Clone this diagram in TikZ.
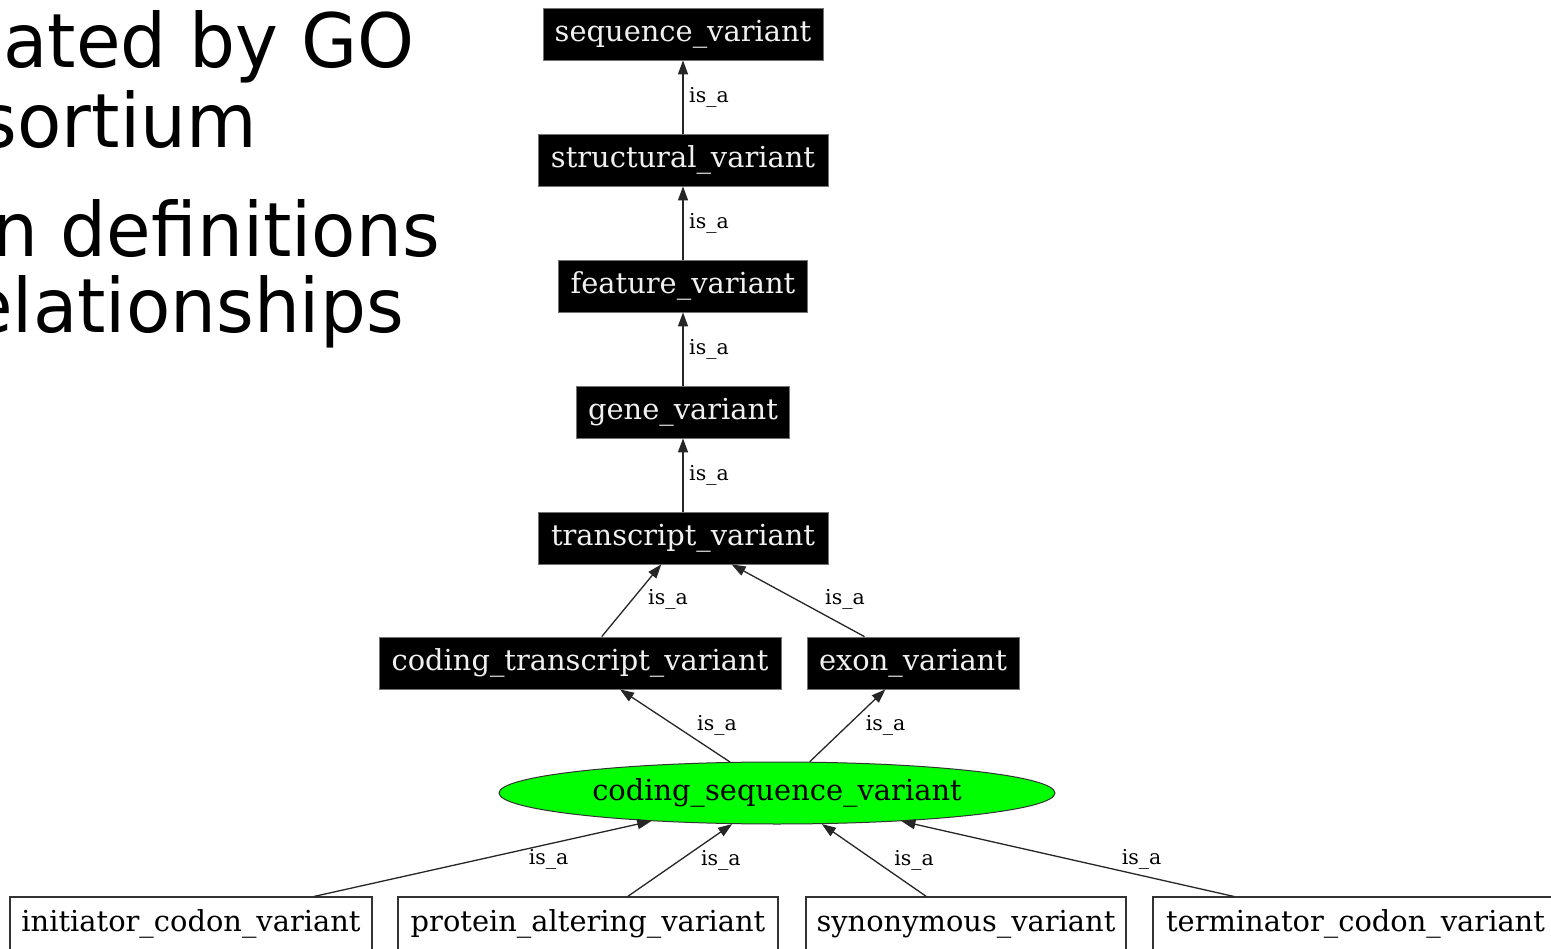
\documentclass[tikz,border=0pt]{standalone}
\usepackage{fontspec}
\setmainfont{DejaVu Serif}
\newfontfamily\slidefont[FakeStretch=0.966]{DejaVu Sans}
\usetikzlibrary{shapes.geometric,arrows.meta}
\begin{document}
\begin{tikzpicture}[x=1pt,y=-1pt,
  nfont/.style={font=\fontsize{28.9}{31}\selectfont},
  blk/.style={nfont,fill=black,draw=black!55,line width=0.8pt,text=white!94!black,inner sep=0pt,minimum height=52pt},
  wht/.style={nfont,fill=white,draw=black!80,line width=1.1pt,inner sep=0pt,minimum height=54pt},
  oval/.style={nfont,ellipse,fill=green,draw=black!80,line width=1pt,inner sep=0pt,minimum width=556pt,minimum height=62pt},
  lbl/.style={font=\fontsize{20.5}{22}\selectfont,inner sep=0pt},
  isa/.style={draw=black!85,line width=1.3pt,-{Triangle[length=14pt,width=10pt]}},
  slide/.style={font=\slidefont\fontsize{75}{80}\selectfont,inner sep=0pt,anchor=base east}]
\useasboundingbox (0,0) rectangle (1551,949);
\clip (0,0) rectangle (1551,949);
\fill[white] (0,0) rectangle (1551,949);

\node[slide] (t1) at (415,68) {ated by GO};
\node[slide] (t2) at (257,148) {sortium};
\node[slide] (t3) at (440,257) {n definitions};
\node[slide] (t4) at (404,333) {elationships};

\node[blk,minimum width=280pt] (sv) at (683,34) {sequence\_variant};
\node[blk,minimum width=290pt] (stv) at (683,160) {structural\_variant};
\node[blk,minimum width=249pt] (fv) at (683,286) {feature\_variant};
\node[blk,minimum width=213pt] (gv) at (683,412) {gene\_variant};
\node[blk,minimum width=290pt] (tv) at (683,538) {transcript\_variant};
\node[blk,minimum width=402pt] (ctv) at (580,663) {coding\_transcript\_variant};
\node[blk,minimum width=212pt] (ev) at (913,663) {exon\_variant};
\node[oval] (csv) at (777,793) {coding\_sequence\_variant};
\node[wht,minimum width=362pt] (icv) at (191,924) {initiator\_codon\_variant};
\node[wht,minimum width=380pt] (pav) at (588,924) {protein\_altering\_variant};
\node[wht,minimum width=320pt] (syn) at (966,924) {synonymous\_variant};
\node[wht,minimum width=405pt] (tcv) at (1355.5,924) {terminator\_codon\_variant};

\draw[isa] (stv) -- node[lbl,pos=0.5,shift={(26,0)}] (l1) {is\_a} (sv);
\draw[isa] (fv) -- node[lbl,pos=0.5,shift={(26,0)}] (l2) {is\_a} (stv);
\draw[isa] (gv) -- node[lbl,pos=0.5,shift={(26,0)}] (l3) {is\_a} (fv);
\draw[isa] (tv) -- node[lbl,pos=0.5,shift={(26,0)}] (l4) {is\_a} (gv);
\draw[isa] (ctv) -- node[lbl,pos=0.5,shift={(36.5,-1.5)}] (l5) {is\_a} (tv);
\draw[isa] (ev) -- node[lbl,pos=0.5,shift={(47,-1.5)}] (l6) {is\_a} (tv);
\draw[isa] (csv) -- node[lbl,pos=0.5,shift={(42,0)}] (l7) {is\_a} (ctv);
\draw[isa] (csv) -- node[lbl,pos=0.5,shift={(38,0)}] (l8) {is\_a} (ev);
\draw[isa] (icv) -- node[lbl,pos=0.5,shift={(66,1)}] (l9) {is\_a} (csv);
\draw[isa] (pav) -- node[lbl,pos=0.5,shift={(41,0)}] (l10) {is\_a} (csv);
\draw[isa] (syn) -- node[lbl,pos=0.5,shift={(40,0)}] (l11) {is\_a} (csv);
\draw[isa] (tcv) -- node[lbl,pos=0.5,shift={(74,1)}] (l12) {is\_a} (csv);
\end{tikzpicture}
\end{document}
